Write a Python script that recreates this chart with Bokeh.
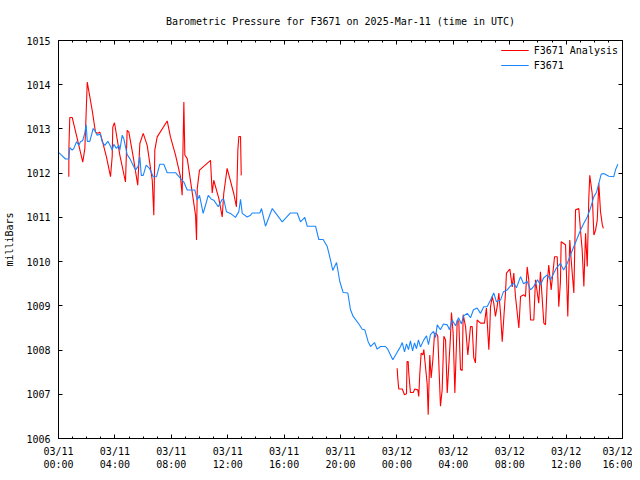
from bokeh.plotting import figure
from bokeh.models import Range1d, FixedTicker, LinearAxis, Legend, LegendItem
from bokeh.embed import file_html
from bokeh.resources import INLINE

# hours since 2025-03-11 00:00 UTC
obs_hours = [0.00, 0.21, 0.50, 0.73, 0.80, 0.97, 1.09, 1.28, 1.44, 1.56, 1.72, 1.87, 1.96, 2.04, 2.22,
             2.46, 2.57, 2.74, 2.98, 3.10, 3.28, 3.50, 3.69, 3.81, 3.92, 4.11, 4.28, 4.35, 4.52, 4.63,
             4.87, 5.06, 5.23, 5.46, 5.65, 5.77, 5.87, 6.01, 6.22, 6.45, 6.72, 6.95, 7.18, 7.47, 7.71,
             8.30, 8.65, 8.89, 9.13, 9.67, 9.84, 10.00, 10.26, 10.43, 10.62, 10.85, 11.01, 11.33, 11.61,
             11.72, 11.91, 12.20, 12.55, 12.79, 12.91, 13.03, 13.38, 13.62, 13.74, 14.28, 14.40, 14.68,
             15.16, 15.87, 16.45, 16.93, 17.16, 17.47, 17.64, 18.23, 18.46, 18.77, 19.06, 19.29, 19.45,
             19.72, 19.95, 20.19, 20.52, 20.71, 20.90, 21.30, 21.54, 21.72, 21.96, 22.13, 22.41, 22.60,
             22.84, 23.19, 23.35, 23.71, 24.02, 24.13, 24.26, 24.38, 24.54, 24.68, 24.82, 24.96, 25.11,
             25.25, 25.39, 25.53, 25.67, 25.91, 26.10, 26.24, 26.38, 26.60, 26.74, 26.86, 27.09, 27.30,
             27.57, 27.73, 27.92, 28.16, 28.37, 28.58, 28.72, 28.99, 29.22, 29.43, 29.69, 29.93, 30.16,
             30.40, 30.64, 30.87, 31.06, 31.35, 31.56, 31.82, 32.06, 32.29, 32.48, 32.77, 32.98, 33.24,
             33.48, 33.71, 33.97, 34.18, 34.40, 34.66, 34.89, 35.13, 35.32, 35.60, 35.82, 36.08, 36.31,
             36.55, 36.74, 37.02, 37.23, 37.50, 37.73, 37.97, 38.16, 38.32, 38.49, 38.67, 39.03, 39.38,
             39.50, 39.67]
obs_mb = [1012.47, 1012.41, 1012.32, 1012.32, 1012.58, 1012.52, 1012.56, 1012.71, 1012.63, 1012.71,
          1012.74, 1012.91, 1013.10, 1012.72, 1012.72, 1013.01, 1012.97, 1012.86, 1012.88, 1012.71,
          1012.63, 1012.72, 1012.61, 1012.52, 1012.65, 1012.56, 1012.63, 1012.52, 1012.86, 1012.78,
          1012.42, 1012.33, 1012.22, 1012.07, 1012.16, 1012.37, 1011.95, 1011.95, 1012.18, 1012.11,
          1011.92, 1011.92, 1012.20, 1012.20, 1012.01, 1012.01, 1011.88, 1011.80, 1011.62, 1011.62,
          1011.39, 1011.50, 1011.09, 1011.28, 1011.50, 1011.41, 1011.39, 1011.24, 1011.41, 1011.41,
          1011.13, 1011.09, 1011.00, 1011.13, 1011.41, 1011.09, 1011.01, 1011.05, 1011.10, 1011.10,
          1011.20, 1010.80, 1011.20, 1010.90, 1011.10, 1011.10, 1010.90, 1011.00, 1010.80, 1010.80,
          1010.50, 1010.50, 1010.34, 1010.04, 1009.80, 1009.98, 1009.55, 1009.30, 1009.29, 1008.91,
          1008.76, 1008.59, 1008.47, 1008.46, 1008.19, 1008.08, 1008.17, 1008.02, 1008.08, 1008.08,
          1008.02, 1007.78, 1007.95, 1008.01, 1008.08, 1008.17, 1007.96, 1008.14, 1008.01, 1008.21,
          1007.98, 1008.16, 1008.03, 1008.23, 1008.07, 1008.23, 1008.32, 1008.12, 1008.35, 1008.42,
          1008.28, 1008.57, 1008.46, 1008.59, 1008.57, 1008.46, 1008.68, 1008.55, 1008.73, 1008.59,
          1008.77, 1008.83, 1008.73, 1008.91, 1008.95, 1008.83, 1008.98, 1008.98, 1009.13, 1009.29,
          1009.09, 1009.13, 1009.32, 1009.36, 1009.45, 1009.51, 1009.41, 1009.66, 1009.50, 1009.55,
          1009.36, 1009.44, 1009.59, 1009.47, 1009.63, 1009.70, 1009.59, 1009.74, 1009.86, 1009.96,
          1009.81, 1009.96, 1010.15, 1010.34, 1010.49, 1010.71, 1010.85, 1011.01, 1011.21, 1011.47,
          1011.57, 1011.77, 1011.98, 1011.99, 1011.93, 1011.92, 1012.07, 1012.20]

# analysis, first run (03/11 morning)
ana1_hours = [0.73, 0.74, 0.80, 0.97, 1.33, 1.72, 1.87, 1.96, 2.04, 2.39, 2.62, 2.79, 2.93, 3.10, 3.40,
              3.69, 3.81, 3.85, 3.97, 4.35, 4.75, 4.87, 4.99, 5.30, 5.62, 5.77, 6.01, 6.29, 6.65, 6.76,
              6.83, 7.00, 7.71, 7.94, 8.30, 8.65, 8.77, 8.89, 8.96, 9.13, 9.72, 9.79, 9.84, 10.00, 10.78,
              10.90, 11.01, 11.37, 11.61, 11.72, 11.96, 12.43, 12.62, 12.72, 12.79, 12.91, 12.96]
ana1_mb = [1011.92, 1012.58, 1013.26, 1013.26, 1012.78, 1012.25, 1012.56, 1013.35, 1014.06, 1013.42,
           1012.93, 1012.90, 1012.93, 1012.74, 1012.37, 1011.92, 1012.39, 1013.04, 1013.14, 1012.41,
           1011.80, 1012.97, 1012.93, 1012.37, 1011.73, 1012.67, 1012.90, 1012.63, 1011.84, 1011.05,
           1012.52, 1012.82, 1013.18, 1012.82, 1012.41, 1011.92, 1011.50, 1013.61, 1012.41, 1012.33,
           1011.05, 1010.49, 1011.65, 1012.07, 1012.29, 1011.55, 1011.84, 1011.43, 1011.01, 1011.54,
           1012.11, 1011.54, 1011.24, 1012.52, 1012.83, 1012.83, 1011.95]

# analysis, second run (03/12)
ana2_hours = [24.02, 24.06, 24.13, 24.38, 24.54, 24.68, 24.72, 24.80, 24.84, 24.96, 25.16, 25.27, 25.48,
              25.55, 25.62, 25.72, 25.84, 25.91, 26.15, 26.22, 26.33, 26.43, 26.55, 26.67, 26.79, 26.90,
              27.09, 27.21, 27.33, 27.45, 27.57, 27.80, 27.87, 27.99, 28.11, 28.28, 28.39, 28.51, 28.63,
              28.70, 28.87, 29.03, 29.22, 29.34, 29.45, 29.57, 29.69, 29.93, 30.21, 30.35, 30.52, 30.59,
              30.64, 30.76, 30.87, 30.99, 31.11, 31.23, 31.35, 31.47, 31.58, 31.70, 31.77, 32.01, 32.18,
              32.29, 32.41, 32.65, 32.77, 33.00, 33.12, 33.24, 33.35, 33.48, 33.71, 33.83, 34.06, 34.18,
              34.42, 34.54, 34.66, 34.77, 34.94, 35.18, 35.37, 35.48, 35.60, 35.65, 35.96, 36.12, 36.26,
              36.36, 36.55, 36.67, 36.90, 37.02, 37.14, 37.26, 37.38, 37.50, 37.61, 37.68, 37.85, 37.97,
              38.09, 38.21, 38.32, 38.44, 38.57, 38.64]
ana2_mb = [1007.59, 1007.37, 1007.12, 1007.12, 1006.99, 1007.01, 1007.74, 1007.74, 1007.48, 1007.04,
           1007.04, 1007.12, 1007.10, 1006.95, 1007.44, 1007.93, 1007.89, 1008.01, 1007.22, 1006.54,
           1007.89, 1007.37, 1007.78, 1008.38, 1008.38, 1008.31, 1006.73, 1007.10, 1008.31, 1008.23,
           1007.03, 1008.31, 1008.85, 1008.38, 1007.03, 1008.68, 1008.65, 1007.56, 1007.54, 1008.80,
           1008.53, 1007.89, 1008.53, 1008.53, 1007.83, 1007.71, 1008.68, 1008.61, 1008.61, 1008.95,
           1008.01, 1008.50, 1008.98, 1009.21, 1009.06, 1008.76, 1008.98, 1009.29, 1008.83, 1008.19,
           1008.72, 1009.29, 1009.74, 1009.83, 1009.43, 1009.74, 1009.21, 1008.50, 1009.21, 1009.25,
           1009.21, 1009.88, 1009.59, 1008.68, 1008.68, 1009.59, 1009.06, 1009.77, 1008.61, 1008.57,
           1009.51, 1009.92, 1009.36, 1010.11, 1010.11, 1008.98, 1009.55, 1010.45, 1010.38, 1008.76,
           1010.49, 1010.04, 1009.29, 1011.17, 1011.20, 1010.71, 1010.26, 1009.44, 1010.64, 1009.89,
           1011.43, 1011.95, 1011.54, 1010.60, 1010.71, 1010.94, 1011.77, 1011.13, 1010.83, 1010.75]

x_ticks = [0, 4, 8, 12, 16, 20, 24, 28, 32, 36, 40]
x_tick_labels = ["03/11\n00:00", "03/11\n04:00", "03/11\n08:00", "03/11\n12:00", "03/11\n16:00",
                 "03/11\n20:00", "03/12\n00:00", "03/12\n04:00", "03/12\n08:00", "03/12\n12:00",
                 "03/12\n16:00"]
y_ticks = [1006, 1007, 1008, 1009, 1010, 1011, 1012, 1013, 1014, 1015]

FONT = "DejaVu Sans Mono"
FS = "10px"

p = figure(width=632, height=472, output_backend="svg", toolbar_location=None,
           x_range=Range1d(0, 40), y_range=Range1d(1006, 1015),
           x_axis_type=None, y_axis_type=None,
           min_border_left=58, min_border_right=10, min_border_top=40, min_border_bottom=33)
p.title.text = "Barometric Pressure for F3671 on 2025-Mar-11 (time in UTC)"
p.title.align = "center"
p.title.text_font = FONT
p.title.text_font_size = FS
p.title.text_font_style = "normal"
p.title.text_color = "black"
p.title.standoff = 27
p.grid.visible = False
p.outline_line_color = "black"
p.outline_line_width = 1
p.background_fill_color = "white"
p.border_fill_color = "white"

xt = FixedTicker(ticks=x_ticks, minor_ticks=list(range(0, 41)))
yt = FixedTicker(ticks=y_ticks, minor_ticks=[])

def style(ax, labels=True):
    ax.major_tick_in = 4
    ax.major_tick_out = 0
    ax.minor_tick_in = 2
    ax.minor_tick_out = 0
    ax.axis_line_color = "black"
    ax.major_tick_line_color = "black"
    ax.minor_tick_line_color = "black"
    ax.major_label_text_font = FONT
    if labels:
        ax.major_label_text_font_size = FS
        ax.major_label_text_color = "black"
    else:
        ax.major_label_text_font_size = "1px"
        ax.major_label_text_color = None
        ax.major_label_standoff = 0
    ax.axis_label_text_font = FONT
    ax.axis_label_text_font_size = FS
    ax.axis_label_text_font_style = "normal"
    ax.axis_label_text_color = "black"

xb = LinearAxis(ticker=xt, major_label_overrides={t: l for t, l in zip(x_ticks, x_tick_labels)})
style(xb)
xb.major_label_standoff = 7
p.add_layout(xb, "below")
xa = LinearAxis(ticker=xt)
style(xa, labels=False)
p.add_layout(xa, "above")

yl = LinearAxis(ticker=yt, axis_label="milliBars")
style(yl)
yl.major_label_standoff = 8
yl.axis_label_standoff = 8
p.add_layout(yl, "left")
yr = LinearAxis(ticker=yt)
style(yr, labels=False)
p.add_layout(yr, "right")

r1 = p.line(ana1_hours, ana1_mb, line_color="#ff0000", line_width=1.1)
p.line(ana2_hours, ana2_mb, line_color="#ff0000", line_width=1.1)
r2 = p.line(obs_hours, obs_mb, line_color="#1a86ff", line_width=1.1)

legend = Legend(items=[LegendItem(label="F3671 Analysis", renderers=[r1]),
                       LegendItem(label="F3671", renderers=[r2])],
                location="top_right")
legend.background_fill_alpha = 0
legend.border_line_alpha = 0
legend.label_text_font = FONT
legend.label_text_font_size = FS
legend.label_text_color = "black"
legend.glyph_width = 28
legend.glyph_height = 12
legend.label_height = 12
legend.spacing = 3
legend.padding = 2
legend.margin = 2
p.add_layout(legend)

open("out.html", "w").write(file_html(p, INLINE))
